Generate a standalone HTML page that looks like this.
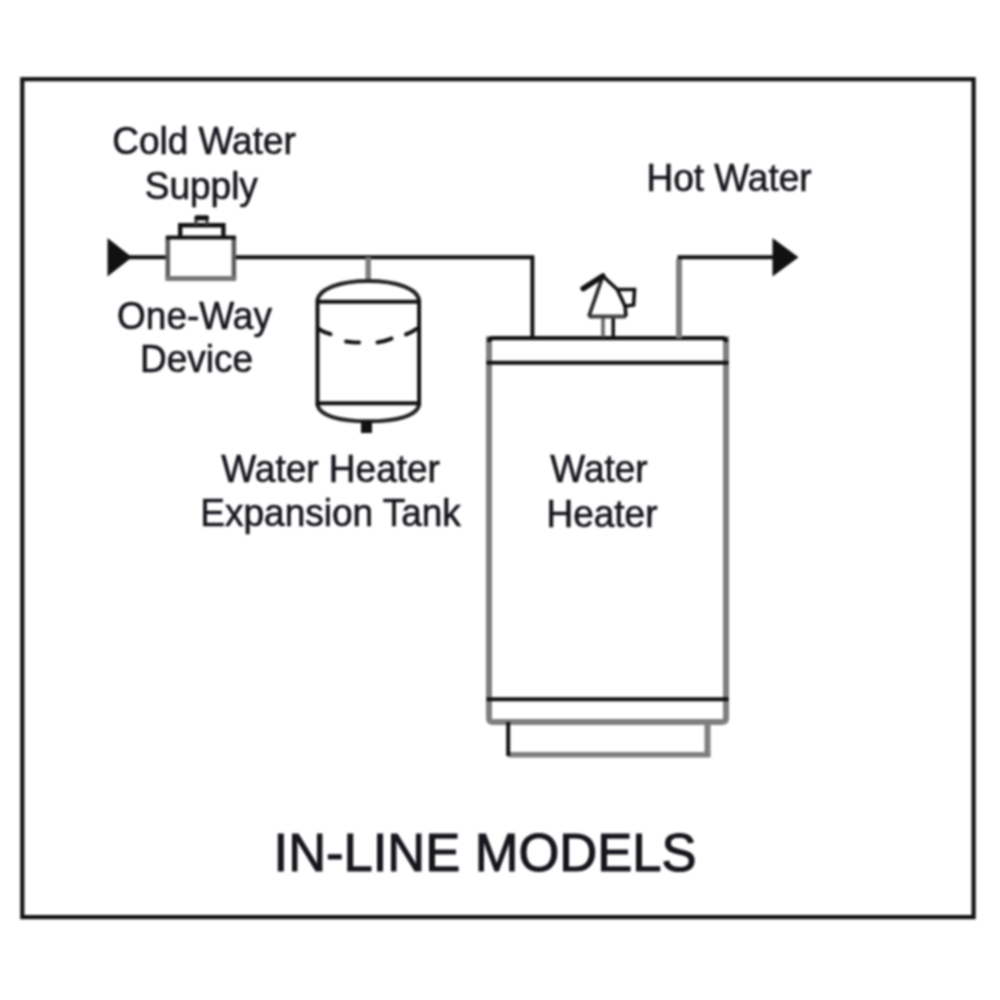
<!DOCTYPE html>
<html><head><meta charset="utf-8">
<style>
html,body{margin:0;padding:0;background:#fff;width:1000px;height:1000px;overflow:hidden}
#w{position:absolute;left:0;top:0;width:1000px;height:1000px;filter:blur(1px)}
svg{position:absolute;left:0;top:0;display:block}
text{font-family:"Liberation Sans",sans-serif;fill:#15151c;stroke:#15151c;stroke-width:0.6}
</style></head><body><div id="w">
<svg width="1000" height="1000" viewBox="0 0 1000 1000">
<g fill="none" stroke="#111" stroke-width="4">
  <!-- border -->
  <rect x="22.3" y="79.2" width="951.3" height="837.9" stroke-width="4.2"/>
  <!-- cold pipe -->
  <line x1="120" y1="257.2" x2="167" y2="257.2"/>
  <polyline points="234,257.2 532.4,257.2 532.4,338.2"/>
  <!-- one-way device -->
  <g stroke="#5c5c5c" stroke-width="4.6">
    <line x1="167.8" y1="237.4" x2="167.8" y2="278.5"/>
    <line x1="233.9" y1="237.4" x2="233.9" y2="278.5"/>
  </g>
  <line x1="165.5" y1="278.5" x2="236.2" y2="278.5" stroke="#777" stroke-width="5"/>
  <line x1="165.8" y1="237.4" x2="235.9" y2="237.4"/>
  <polyline points="180.2,237.4 180.2,225.3 223.4,225.3 223.4,237.4" stroke-width="4.4"/>
  <polyline points="196,225 196,219 207,219 207,225" stroke="#444" stroke-width="3.2"/>
  <rect x="194.5" y="215.3" width="14.5" height="4.6" rx="2" fill="#111" stroke="none"/>
  <!-- tank -->
  <line x1="368.2" y1="257.2" x2="368.2" y2="281" stroke="#7f7f7f" stroke-width="5.5"/>
  <path d="M317.5,301.8 C317.5,288.5 341,281 368.3,281 C395.6,281 419.1,288.5 419.1,301.8" stroke="#222"/>
  <path d="M317.5,403.3 C317.5,416 341,421.3 368.3,421.3 C395.6,421.3 419.1,416 419.1,403.3" stroke="#222"/>
  <line x1="317.5" y1="299.8" x2="317.5" y2="405.3"/>
  <line x1="419.1" y1="299.8" x2="419.1" y2="405.3"/>
  <line x1="317.5" y1="301.8" x2="419.1" y2="301.8"/>
  <line x1="317.5" y1="403.3" x2="419.1" y2="403.3"/>
  <g stroke-width="4" stroke-linecap="round">
  <polyline points="318.5,328.8 324,332 330.5,334.2"/>
  <polyline points="346,341.5 352.5,342.2 359,342.4"/>
  <polyline points="377.5,342.4 384.5,341 391.5,338.6"/>
  <polyline points="406,334.4 411.5,332 417,328.6"/>
  </g>
  <!-- heater -->
  <g stroke="#7f7f7f" stroke-width="6">
    <line x1="489" y1="336.2" x2="489" y2="719"/>
    <line x1="726" y1="336.2" x2="726" y2="719"/>
    <path d="M489,718 Q489,722 493,722 L722,722 Q726,722 726,718" />
    <line x1="707.5" y1="722" x2="707.5" y2="754.7"/>
    <line x1="508.2" y1="754.7" x2="710.5" y2="754.7" stroke-width="5.5"/>
  </g>
  <path d="M489,342 Q489,338.2 493,338.2 L722,338.2 Q726,338.2 726,342" stroke-width="4.2"/>
  <line x1="486.5" y1="362.8" x2="728.5" y2="362.8"/>
  <line x1="486.5" y1="699.3" x2="728.5" y2="699.3"/>
  <line x1="508.2" y1="722" x2="508.2" y2="756"/>
  <!-- hot pipe -->
  <line x1="679" y1="338.2" x2="679" y2="259" stroke="#7f7f7f" stroke-width="6"/>
  <polyline points="677.5,257.2 775,257.2"/>
  <!-- relief valve -->
  <line x1="603" y1="317" x2="603" y2="337" stroke="#666" stroke-width="3.6"/>
  <line x1="613.2" y1="317" x2="613.2" y2="337" stroke-width="3.5"/>
  <line x1="588.8" y1="316.5" x2="626" y2="316.5" stroke="#444" stroke-width="3.8"/>
  <line x1="602.8" y1="276" x2="588.8" y2="316.5" stroke="#2a2a2a" stroke-width="3.8"/>
  <polyline points="602.8,276 617.3,289.5 625.1,306.3 626,316.5" stroke-width="3.6"/>
  <line x1="602.8" y1="276" x2="583.2" y2="288.6" stroke-width="5.6" stroke-linecap="round"/>
  <polyline points="617.3,289.5 634.5,289.5 633.6,305 625.1,306.3" stroke-width="3.6"/>
</g>
<g fill="#111" stroke="none">
  <polygon points="107.5,238 132,257.2 107.5,276.5"/>
  <polygon points="772.5,238 798.5,257.2 772.5,276.5"/>
  <rect x="361" y="421" width="11" height="12"/>
</g>
<g font-size="37" text-anchor="middle">
  <text transform="translate(204,153.5) scale(1,1.03)">Cold Water</text>
  <text transform="translate(201.3,199) scale(1,1.03)">Supply</text>
  <text transform="translate(194.5,328.5) scale(1,1.03)">One-Way</text>
  <text transform="translate(196.5,372) scale(1,1.03)">Device</text>
  <text transform="translate(330.6,482) scale(1,1.03)">Water Heater</text>
  <text transform="translate(330.6,525.6) scale(1,1.03)">Expansion Tank</text>
  <text transform="translate(599,482) scale(1,1.03)">Water</text>
  <text transform="translate(602,527) scale(1,1.03)">Heater</text>
  <text transform="translate(729,190.6) scale(1,1.03)">Hot Water</text>
  <text transform="translate(485,870.5) scale(1,1.03)" font-size="52.5" style="stroke-width:1.1">IN-LINE MODELS</text>
</g>
</svg></div>
</body></html>
